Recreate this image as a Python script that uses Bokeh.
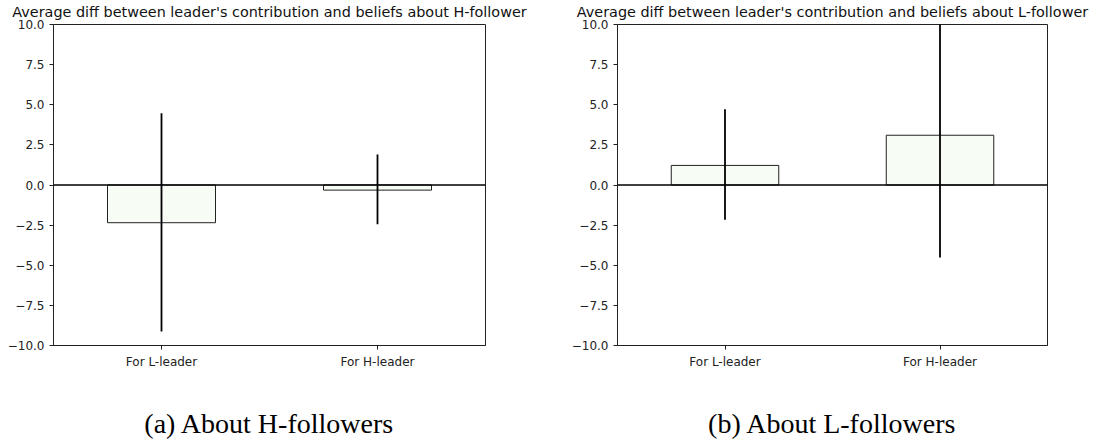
from bokeh.plotting import figure
from bokeh.layouts import row
from bokeh.models import ColumnDataSource, FixedTicker, Span, Range1d, LinearAxis
from bokeh.embed import file_html
from bokeh.resources import INLINE

# ---- data ----
categories = ["For L-leader", "For H-leader"]
x_pos = [0, 1]
titles = ["Average diff between leader's contribution and beliefs about H-follower",
          "Average diff between leader's contribution and beliefs about L-follower"]
captions = ["(a) About H-followers", "(b) About L-followers"]

h_means = [-2.35, -0.32]
h_low = [-9.13, -2.44]
h_high = [4.47, 1.90]

l_means = [1.22, 3.10]
l_low = [-2.17, -4.52]
l_high = [4.72, 10.72]

y_ticks = [-10.0, -7.5, -5.0, -2.5, 0.0, 2.5, 5.0, 7.5, 10.0]
y_tick_labels = ["\u221210.0", "\u22127.5", "\u22125.0", "\u22122.5", "0.0", "2.5", "5.0", "7.5", "10.0"]


def make_panel(title, caption, means, low, high, width, bl, br):
    p = figure(width=width, height=441, output_backend="svg", toolbar_location=None,
               x_range=Range1d(-0.5, 1.5), y_range=Range1d(-10, 10),
               min_border_left=bl, min_border_right=br, min_border_top=24,
               min_border_bottom=95)
    src = ColumnDataSource(dict(x=x_pos, top=means, low=low, high=high))
    p.vbar(x="x", top="top", bottom=0, width=0.5, source=src,
           fill_color="#f7fcf5", line_color="#222222", line_width=1)
    p.segment(x0="x", y0="low", x1="x", y1="high", source=src,
              line_color="black", line_width=1.8)
    p.add_layout(Span(location=0, dimension="width", line_color="black", line_width=1.6))

    p.xgrid.visible = False
    p.ygrid.visible = False
    p.outline_line_color = "#222222"
    p.outline_line_width = 1
    p.outline_line_alpha = 1

    p.yaxis.ticker = FixedTicker(ticks=y_ticks)
    p.yaxis.major_label_overrides = {t: l for t, l in zip(y_ticks, y_tick_labels)}
    p.xaxis.ticker = FixedTicker(ticks=x_pos)
    p.xaxis.major_label_overrides = {x: c for x, c in zip(x_pos, categories)}
    for ax in (p.xaxis, p.yaxis):
        ax.axis_line_color = "#222222"
        ax.major_tick_line_color = "#222222"
        ax.major_tick_in = 0
        ax.major_tick_out = 4
        ax.minor_tick_line_color = None
        ax.major_label_text_font = "DejaVu Sans"
        ax.major_label_text_font_size = "12px"
        ax.major_label_text_color = "#222222"
    p.yaxis.major_label_standoff = 5
    p.xaxis.major_label_standoff = 5

    # caption as x-axis label
    p.xaxis.axis_label = caption
    p.xaxis.axis_label_text_font = "Liberation Serif"
    p.xaxis.axis_label_text_font_size = "28px"
    p.xaxis.axis_label_text_font_style = "normal"
    p.xaxis.axis_label_text_color = "black"
    p.xaxis.axis_label_standoff = 36

    # title as label of an empty top axis
    top = LinearAxis(ticker=FixedTicker(ticks=[]), axis_line_color=None,
                     major_tick_line_color=None, minor_tick_line_color=None,
                     axis_label=title, axis_label_standoff=5,
                     axis_label_text_font="DejaVu Sans",
                     axis_label_text_font_size="14.4px",
                     axis_label_text_font_style="normal",
                     axis_label_text_color="#111111")
    p.add_layout(top, "above")
    return p


p1 = make_panel(titles[0], captions[0], h_means, h_low, h_high, 550, 53, 65)
p2 = make_panel(titles[1], captions[1], l_means, l_low, l_high, 549, 67, 52)

layout = row(p1, p2)
open("out.html", "w").write(file_html(layout, INLINE))
